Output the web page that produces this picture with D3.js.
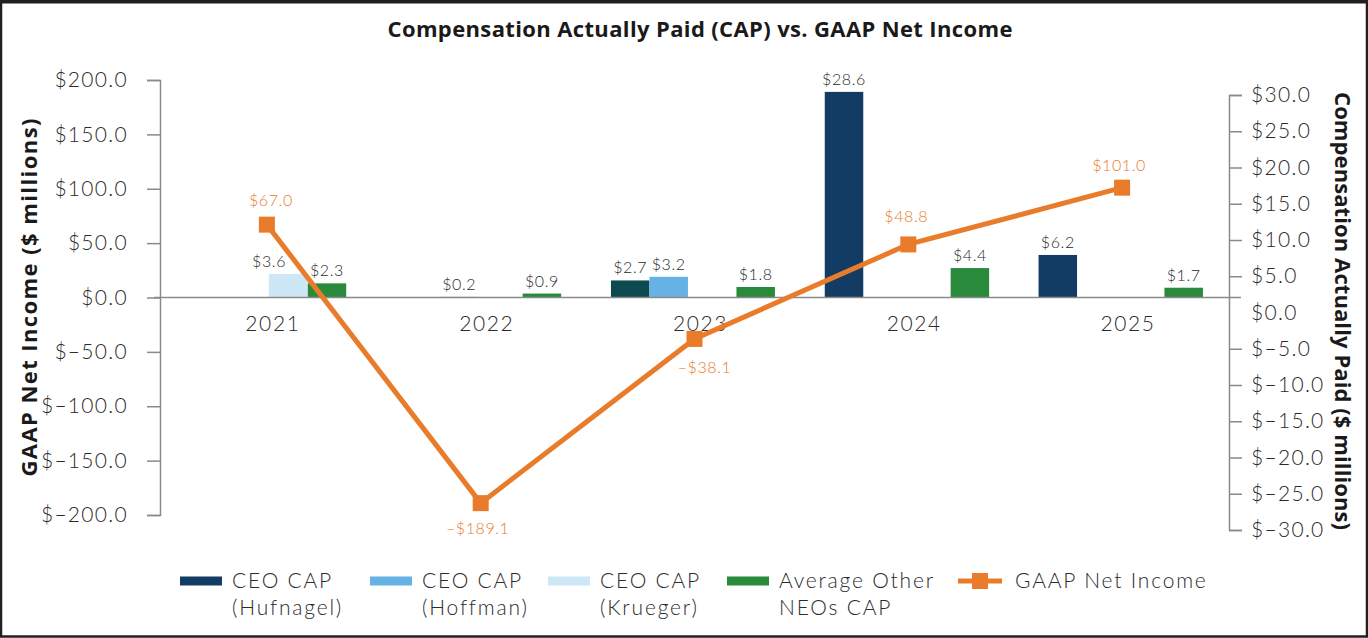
<!DOCTYPE html>
<html>
<head>
<meta charset="utf-8">
<script src="https://cdn.jsdelivr.net/npm/d3@7"></script>
<style>
  html, body { margin: 0; padding: 0; background: #fff; }
  svg { display: block; font-family: "Lato", "Open Sans", sans-serif; }
</style>
</head>
<body>
<svg id="chart" width="1368" height="638"></svg>
<script>
// ---------------- DATA ----------------
const years = ["2021", "2022", "2023", "2024", "2025"];
const netIncome = [67.0, -189.1, -38.1, 48.8, 101.0];           // GAAP Net Income ($M), left axis
const capHufnagel = [null, null, null, 28.6, 6.2];              // CEO CAP (Hufnagel)
const capCeo2023 = [null, null, 2.7, null, null];               // first 2023 CEO bar (dark teal)
const capHoffman = [null, null, 3.2, null, null];               // CEO CAP (Hoffman)
const capKrueger = [3.6, 0.2, null, null, null];                // CEO CAP (Krueger)
const capOtherNeos = [2.3, 0.9, 1.8, 4.4, 1.7];                 // Average Other NEOs CAP
const leftTicks = [200, 150, 100, 50, 0, -50, -100, -150, -200];
const rightTicks = [30, 25, 20, 15, 10, 5, 0, -5, -10, -15, -20, -25, -30];
const legendLabels = [["CEO CAP", "(Hufnagel)"], ["CEO CAP", "(Hoffman)"], ["CEO CAP", "(Krueger)"], ["Average Other", "NEOs CAP"], ["GAAP Net Income"]];

// ---------------- LAYOUT / STYLE ----------------
const W = 1368, H = 638;
const plot = { left: 160, right: 1229, top: 80, bottom: 515 };
const colors = {
  hufnagel: "#123c63", ceo2023: "#0d4a50", hoffman: "#66b2e4",
  krueger: "#cde7f7", other: "#2a8a3c", line: "#e97c2b", axis: "#8a8a8a", text: "#2b2b2b"
};
const boldFont = "'Open Sans', sans-serif";
// bar offsets (start of bar) relative to the category centre, in bar widths
const barSlots = {
  hufnagel: [-2.17, -2.17, -2.17, -2.17, -2.17],
  ceo2023:  [-2.17, -2.17, -2.17, -2.17, -2.17],
  hoffman:  [-1.17, -1.17, -1.17, -1.17, -1.17],
  krueger:  [0.05, -1.06, 0, 0, 0],
  other:    [1.06, 1.09, 1.09, 1.1, 1.1]
};
const barLabelDx = { krueger: [-19, 0, 0, 0, 0] };
const lineLabelPos = [-19, 31, 34, -22, -17];
const lineLabelDx = [4, -3, 10, -2, -3];
const lightSpacing = 1.3;

const svg = d3.select("#chart");

// frame
svg.append("rect").attr("x", 1).attr("y", 1.5).attr("width", W - 2).attr("height", H - 3)
  .attr("fill", "#fff").attr("stroke", "#231f20").attr("stroke-width", 2.5);
svg.append("line").attr("x1", 0).attr("x2", W).attr("y1", 1.5).attr("y2", 1.5)
  .attr("stroke", "#231f20").attr("stroke-width", 4);

// scales
const x = d3.scaleBand().domain(years).range([plot.left, plot.right]).padding(0);
const yL = d3.scaleLinear().domain([-200, 200]).range([plot.bottom, plot.top]);
const yR = d3.scaleLinear().domain([-30, 30]).range([530, 95]);       // right axis labels
const yBar = d3.scaleLinear().domain([0, 30]).range([300.1, 81.7]);   // bar heights as drawn
const barW = 38.5;
const slot = d3.scaleLinear().domain([0, 1]).range([0, barW]);
const cx = d => x(d) + x.bandwidth() / 2;
const y0 = yL(0);
const money = v => "$" + (v < 0 ? "\u2013" + d3.format(".1f")(-v) : d3.format(".1f")(v));

// title
svg.append("text").attr("x", 700).attr("y", 37).attr("text-anchor", "middle")
  .style("font-family", boldFont)
  .attr("font-size", 22).attr("font-weight", 700).attr("fill", "#1a1a1a")
  .attr("textLength", 625).attr("lengthAdjust", "spacing")
  .text("Compensation Actually Paid (CAP) vs. GAAP Net Income");

// left axis
const gL = svg.append("g").attr("transform", `translate(${plot.left},0)`);
gL.call(d3.axisLeft(yL).tickValues(leftTicks).tickSize(13).tickPadding(19).tickFormat(money));
gL.attr("font-family", null);
gL.select(".domain").attr("stroke", colors.axis).attr("stroke-width", 1.5);
gL.selectAll(".tick line").attr("stroke", colors.axis).attr("stroke-width", 1.5);
gL.selectAll(".tick text").attr("font-size", 21).attr("font-weight", 300).attr("fill", colors.text)
  .style("font-family", "Lato, sans-serif").attr("letter-spacing", lightSpacing);

// right axis
const gR = svg.append("g").attr("transform", `translate(${plot.right},0)`);
gR.call(d3.axisRight(yR).tickValues(rightTicks).tickSize(13).tickPadding(9).tickFormat(money));
gR.attr("font-family", null);
gR.select(".domain").attr("stroke", colors.axis).attr("stroke-width", 1.5);
gR.selectAll(".tick line").attr("stroke", colors.axis).attr("stroke-width", 1.5)
  .attr("opacity", d => d === 0 ? 0 : 1);
gR.selectAll(".tick text").attr("font-size", 21).attr("font-weight", 300).attr("fill", colors.text)
  .style("font-family", "Lato, sans-serif").attr("letter-spacing", lightSpacing);

// axis titles
svg.append("text").attr("transform", `translate(37,${y0}) rotate(-90)`).attr("text-anchor", "middle")
  .style("font-family", boldFont)
  .attr("font-size", 22).attr("font-weight", 700).attr("fill", "#1a1a1a")
  .attr("textLength", 358).attr("lengthAdjust", "spacing")
  .text("GAAP Net Income ($ millions)");
svg.append("text").attr("transform", `translate(1335,311) rotate(90)`).attr("text-anchor", "middle")
  .style("font-family", boldFont)
  .attr("font-size", 22).attr("font-weight", 700).attr("fill", "#1a1a1a")
  .attr("textLength", 438).attr("lengthAdjust", "spacing")
  .text("Compensation Actually Paid ($ millions)");

// bars
const barSeries = [
  { key: "hufnagel", values: capHufnagel },
  { key: "ceo2023", values: capCeo2023 },
  { key: "hoffman", values: capHoffman },
  { key: "krueger", values: capKrueger },
  { key: "other", values: capOtherNeos }
];
const barData = [];
barSeries.forEach(s => s.values.forEach((v, i) => {
  if (v !== null) barData.push({ key: s.key, year: years[i], i, v });
}));
const gB = svg.append("g");
gB.selectAll("rect").data(barData).join("rect")
  .attr("x", d => cx(d.year) + slot(barSlots[d.key][d.i]))
  .attr("width", barW)
  .attr("y", d => Math.min(yBar(d.v), y0 - 1))
  .attr("height", d => Math.max(1, y0 - yBar(d.v)))
  .attr("fill", d => colors[d.key]);
gB.selectAll("text").data(barData).join("text")
  .attr("x", d => cx(d.year) + slot(barSlots[d.key][d.i]) + barW / 2 + (barLabelDx[d.key] ? barLabelDx[d.key][d.i] : 0))
  .attr("y", d => Math.min(yBar(d.v), y0 - 1) - 7)
  .attr("text-anchor", "middle").attr("font-size", 16).attr("font-weight", 300)
  .attr("letter-spacing", 0.6)
  .attr("fill", colors.text).text(d => "$" + d3.format(".1f")(d.v));

// zero baseline
svg.append("line").attr("x1", plot.left - 6).attr("x2", plot.right + 12)
  .attr("y1", y0).attr("y2", y0).attr("stroke", colors.axis).attr("stroke-width", 1.5);

// year labels
svg.selectAll(".yr").data(years).join("text").attr("class", "yr")
  .attr("x", d => cx(d) + 6).attr("y", y0 + 33).attr("text-anchor", "middle")
  .attr("font-size", 21).attr("font-weight", 300).attr("letter-spacing", 1.6)
  .attr("fill", colors.text).text(d => d);

// line
const lineData = years.map((yr, i) => ({ yr, i, v: netIncome[i] }));
svg.append("path").datum(lineData)
  .attr("d", d3.line().x(d => cx(d.yr)).y(d => yL(d.v)))
  .attr("fill", "none").attr("stroke", colors.line).attr("stroke-width", 5);
svg.selectAll(".mk").data(lineData).join("rect").attr("class", "mk")
  .attr("x", d => cx(d.yr) - 8).attr("y", d => yL(d.v) - 8)
  .attr("width", 16).attr("height", 16).attr("fill", colors.line);
svg.selectAll(".ll").data(lineData).join("text").attr("class", "ll")
  .attr("x", d => cx(d.yr) + lineLabelDx[d.i]).attr("y", d => yL(d.v) + lineLabelPos[d.i])
  .attr("text-anchor", "middle").attr("font-size", 16).attr("font-weight", 300)
  .attr("letter-spacing", 0.6)
  .attr("fill", colors.line)
  .text(d => (d.v < 0 ? "\u2013$" + d3.format(".1f")(-d.v) : "$" + d3.format(".1f")(d.v)));

// legend
const legendX = [180, 370, 548, 727, 958];
const legendKeys = ["hufnagel", "hoffman", "krueger", "other", "line"];
const gLeg = svg.append("g");
legendKeys.forEach((k, j) => {
  const g = gLeg.append("g").attr("transform", `translate(${legendX[j]},581)`);
  if (k === "line") {
    g.append("line").attr("x1", 0).attr("x2", 44).attr("y1", 0).attr("y2", 0)
      .attr("stroke", colors.line).attr("stroke-width", 5);
    g.append("rect").attr("x", 14).attr("y", -8).attr("width", 16).attr("height", 16).attr("fill", colors.line);
  } else {
    g.append("rect").attr("x", 0).attr("y", -4.5).attr("width", 42).attr("height", 9).attr("fill", colors[k]);
  }
  const tx = k === "line" ? 57 : 52;
  legendLabels[j].forEach((t, li) => {
    g.append("text").attr("x", tx).attr("y", 7 + li * 27).attr("font-size", 21).attr("font-weight", 300)
      .attr("letter-spacing", 1.8)
      .attr("fill", colors.text).text(t);
  });
});
</script>
</body>
</html>
